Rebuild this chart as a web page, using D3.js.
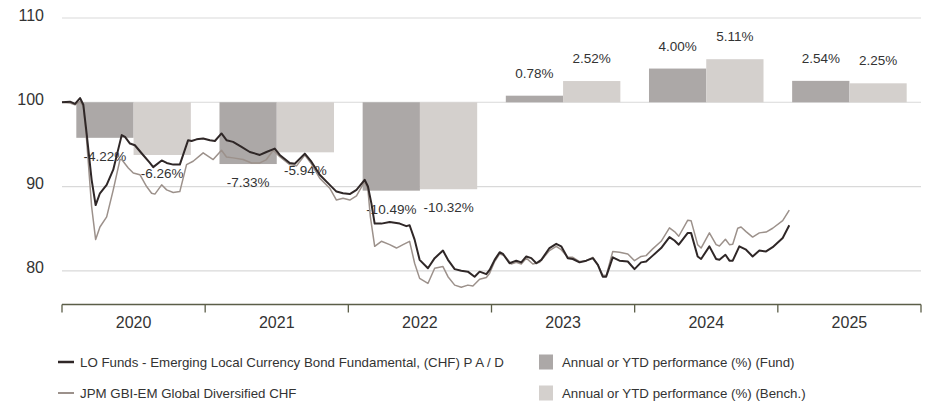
<!DOCTYPE html>
<html>
<head>
<meta charset="utf-8">
<script src="https://cdn.jsdelivr.net/npm/d3@7"></script>
<style>
  body{margin:0;background:#fff;}
  svg{display:block;font-family:"Liberation Sans",Arial,sans-serif;}
</style>
</head>
<body>
<svg id="chart" width="927" height="403"></svg>
<script>
// yearly bars
const years = ["2020","2021","2022","2023","2024","2025"];
const fundPerf = [-4.22, -7.33, -10.49, 0.78, 4.00, 2.54];
const benchPerf = [-6.26, -5.94, -10.32, 2.52, 5.11, 2.25];
const yTicks = [80, 90, 100, 110];

// base 100 lines, [decimal year, value]
const fundLine = [
[2020.00,100.0],[2020.056,100.07],[2020.091,99.8],[2020.126,100.5],[2020.149,99.7],[2020.172,96.3],
[2020.207,90.8],[2020.235,87.8],[2020.265,89.2],[2020.312,90.2],[2020.358,92.0],[2020.417,96.1],
[2020.440,95.9],[2020.475,95.1],[2020.509,94.9],[2020.556,93.95],[2020.614,92.8],[2020.637,92.3],
[2020.696,93.1],[2020.731,92.8],[2020.777,92.6],[2020.823,92.6],[2020.881,95.5],[2020.905,95.4],
[2020.940,95.6],[2020.986,95.7],[2021.033,95.5],[2021.068,95.4],[2021.114,96.3],[2021.149,95.5],
[2021.195,95.3],[2021.254,94.7],[2021.312,94.1],[2021.382,93.75],[2021.428,94.1],[2021.486,94.5],
[2021.521,93.75],[2021.591,92.8],[2021.626,92.7],[2021.696,93.9],[2021.742,92.95],[2021.800,91.4],
[2021.870,90.2],[2021.917,89.4],[2021.963,89.2],[2022.010,89.1],[2022.057,89.6],[2022.114,90.8],
[2022.137,90.0],[2022.161,88.0],[2022.184,85.6],[2022.231,85.6],[2022.289,85.8],[2022.359,85.6],
[2022.405,85.3],[2022.428,85.4],[2022.463,83.7],[2022.498,81.3],[2022.556,80.3],[2022.603,81.5],
[2022.661,82.4],[2022.696,81.3],[2022.743,80.2],[2022.789,80.0],[2022.835,79.9],[2022.882,79.3],
[2022.917,79.9],[2022.964,79.6],[2022.987,80.1],[2023.022,81.3],[2023.057,82.2],[2023.080,82.0],
[2023.126,80.9],[2023.173,81.2],[2023.208,81.0],[2023.243,81.7],[2023.278,81.5],[2023.313,80.9],
[2023.348,81.3],[2023.405,82.7],[2023.452,83.2],[2023.487,82.9],[2023.533,81.5],[2023.568,81.4],
[2023.615,81.0],[2023.662,81.2],[2023.708,81.5],[2023.743,80.7],[2023.777,79.3],[2023.801,79.3],
[2023.847,81.6],[2023.894,81.2],[2023.952,81.1],[2023.999,80.2],[2024.045,81.0],[2024.080,81.1],
[2024.126,81.8],[2024.185,82.7],[2024.243,84.0],[2024.278,83.6],[2024.308,83.1],[2024.371,84.5],
[2024.394,84.5],[2024.440,81.7],[2024.464,81.4],[2024.522,82.9],[2024.569,81.4],[2024.592,81.3],
[2024.634,81.9],[2024.662,81.2],[2024.685,81.2],[2024.731,82.9],[2024.778,82.5],[2024.824,81.7],
[2024.871,82.4],[2024.918,82.3],[2024.964,82.8],[2025.034,83.9],[2025.080,85.4]
];
const benchLine = [
[2020.00,100.0],[2020.056,99.9],[2020.091,99.7],[2020.126,100.1],[2020.149,99.5],[2020.172,95.5],
[2020.207,87.6],[2020.235,83.7],[2020.265,85.2],[2020.312,86.4],[2020.358,89.6],[2020.405,93.2],
[2020.417,93.2],[2020.463,92.2],[2020.498,91.6],[2020.544,91.4],[2020.591,90.0],[2020.626,89.2],
[2020.649,89.1],[2020.696,90.2],[2020.731,89.6],[2020.777,89.3],[2020.823,89.4],[2020.870,92.6],
[2020.916,93.0],[2020.986,94.0],[2021.056,93.2],[2021.114,94.3],[2021.149,93.5],[2021.195,93.4],
[2021.265,93.2],[2021.324,92.8],[2021.382,92.8],[2021.428,93.2],[2021.475,94.3],[2021.521,93.55],
[2021.591,92.6],[2021.638,92.45],[2021.696,93.75],[2021.742,92.7],[2021.800,91.0],[2021.870,89.8],
[2021.917,88.4],[2021.963,88.6],[2022.010,88.4],[2022.057,88.9],[2022.114,90.6],[2022.137,89.6],
[2022.154,86.4],[2022.184,82.9],[2022.231,83.5],[2022.289,83.1],[2022.336,82.7],[2022.382,83.1],
[2022.428,83.5],[2022.463,80.9],[2022.498,79.1],[2022.556,78.5],[2022.603,80.3],[2022.661,80.5],
[2022.696,79.3],[2022.743,78.3],[2022.789,78.05],[2022.835,78.3],[2022.870,78.2],[2022.917,79.0],
[2022.964,79.2],[2022.987,79.7],[2023.022,81.1],[2023.057,82.0],[2023.091,81.8],[2023.138,80.8],
[2023.173,81.0],[2023.208,80.8],[2023.243,81.5],[2023.289,80.8],[2023.336,81.0],[2023.405,82.4],
[2023.452,82.9],[2023.487,82.5],[2023.533,81.6],[2023.568,81.6],[2023.615,81.1],[2023.662,81.2],
[2023.708,81.6],[2023.743,80.7],[2023.777,79.5],[2023.801,79.4],[2023.847,82.3],[2023.894,82.2],
[2023.952,82.0],[2023.999,81.2],[2024.045,81.7],[2024.080,81.8],[2024.126,82.6],[2024.185,83.5],
[2024.243,85.1],[2024.278,84.65],[2024.308,84.1],[2024.371,86.0],[2024.394,85.95],[2024.440,83.1],
[2024.464,82.7],[2024.522,84.5],[2024.569,83.1],[2024.592,82.95],[2024.634,83.75],[2024.662,83.1],
[2024.685,83.15],[2024.720,85.05],[2024.743,85.2],[2024.778,84.65],[2024.824,84.0],[2024.871,84.5],
[2024.918,84.6],[2024.964,85.05],[2025.034,85.95],[2025.080,87.2]
];

const fundName = "LO Funds - Emerging Local Currency Bond Fundamental, (CHF) P A / D";
const benchName = "JPM GBI-EM Global Diversified CHF";
const fundBarName = "Annual or YTD performance (%) (Fund)";
const benchBarName = "Annual or YTD performance (%) (Bench.)";

const C = {fundBar:"#aca8a7", benchBar:"#d4d0cd", fundLn:"#2f2727", benchLn:"#9c918b",
           grid:"#d9d9d9", axis:"#5b5e48", text:"#333"};

const svg = d3.select("#chart");
const pL = 62, pR = 921, pT = 18, pB = 304.5;

const y = d3.scaleLinear().domain([76,110]).range([pB, pT]);
const x = d3.scaleLinear().domain([2020,2026]).range([pL, pR]);
const xb = d3.scaleBand().domain(years).range([pL, pR]).padding(0);
const xs = d3.scaleBand().domain(["fund","bench"]).range([0, xb.bandwidth()]).paddingInner(0).paddingOuter(0.25);

// grid
svg.append("g").selectAll("line").data(yTicks).enter().append("line")
  .attr("x1", pL).attr("x2", pR)
  .attr("y1", d=>y(d)).attr("y2", d=>y(d))
  .attr("stroke", C.grid).attr("stroke-width", 1.2);

svg.append("g").selectAll("text").data(yTicks).enter().append("text")
  .attr("x", 44).attr("y", d=>y(d)+2.5)
  .attr("text-anchor","end").attr("font-size",16).attr("fill",C.text)
  .text(d=>d);

// bars
const barData = [];
years.forEach((yr,i)=>{
  barData.push({yr, key:"fund", v:fundPerf[i]});
  barData.push({yr, key:"bench", v:benchPerf[i]});
});
const g = svg.append("g");
g.selectAll("rect").data(barData).enter().append("rect")
  .attr("x", d=>xb(d.yr)+xs(d.key))
  .attr("width", xs.bandwidth())
  .attr("y", d=>y(Math.max(100, 100+d.v)))
  .attr("height", d=>Math.abs(y(100+d.v)-y(100)))
  .attr("fill", d=>d.key=="fund"?C.fundBar:C.benchBar);

g.selectAll("text").data(barData).enter().append("text")
  .attr("x", d=>xb(d.yr)+xs(d.key)+xs.bandwidth()/2)
  .attr("y", d=> d.v<0 ? y(100+d.v)+23 : y(100+d.v)-18)
  .attr("text-anchor","middle").attr("font-size",13.5).attr("fill",C.text)
  .text(d=>d.v.toFixed(2)+"%");

// lines
const line = d3.line().x(d=>x(d[0])).y(d=>y(d[1]));
svg.append("path").datum(benchLine).attr("d", line)
  .attr("fill","none").attr("stroke",C.benchLn).attr("stroke-width",1.5).attr("stroke-linejoin","round");
svg.append("path").datum(fundLine).attr("d", line)
  .attr("fill","none").attr("stroke",C.fundLn).attr("stroke-width",2).attr("stroke-linejoin","round");

// x axis
const ax = svg.append("g").attr("transform","translate(0,"+pB+")");
ax.append("line").attr("x1",pL).attr("x2",pR).attr("stroke",C.axis).attr("stroke-width",1.3);
ax.selectAll("line.tk").data(d3.range(2020,2027)).enter().append("line")
  .attr("class","tk").attr("x1",d=>x(d)).attr("x2",d=>x(d))
  .attr("y1",0).attr("y2",8).attr("stroke",C.axis).attr("stroke-width",1.3);
ax.selectAll("text").data(years).enter().append("text")
  .attr("x", d=>xb(d)+xb.bandwidth()/2).attr("y", 23)
  .attr("text-anchor","middle").attr("font-size",16).attr("fill",C.text)
  .text(d=>d);

// legend
const lg = svg.append("g").attr("font-size",13.3).attr("fill",C.text);
[[fundName, C.fundLn, 2.5, 362],[benchName, C.benchLn, 2, 393]].forEach(([t,c,w,yy])=>{
  lg.append("line").attr("x1",58).attr("x2",74).attr("y1",yy).attr("y2",yy).attr("stroke",c).attr("stroke-width",w);
  lg.append("text").attr("x",80).attr("y",yy+4.5).text(t);
});
[[fundBarName, C.fundBar, 362],[benchBarName, C.benchBar, 393]].forEach(([t,c,yy])=>{
  lg.append("rect").attr("x",539).attr("y",yy-7.5).attr("width",14).attr("height",15).attr("fill",c);
  lg.append("text").attr("x",562).attr("y",yy+4.5).text(t);
});
</script>
</body>
</html>
